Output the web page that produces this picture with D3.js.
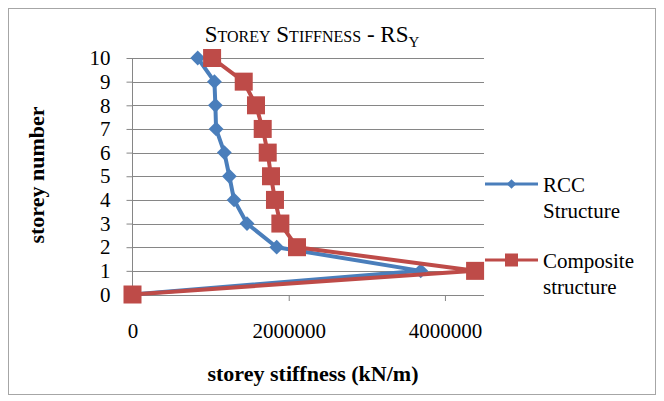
<!DOCTYPE html>
<html><head><meta charset="utf-8">
<script src="https://cdn.jsdelivr.net/npm/d3@7"></script>
<style>body{margin:0;background:#fff}</style>
</head><body><svg id="c" width="664" height="401" font-family="Liberation Serif, Times New Roman, serif"></svg>
<script>
const storeys = [0,1,2,3,4,5,6,7,8,9,10];
const rcc = [0,3690000,1846000,1466000,1300000,1240000,1176000,1070000,1061000,1049000,835000];
const composite = [0,4386000,2106000,1893000,1824000,1773000,1731000,1667000,1581000,1424000,1019000];
const xTicks = [0,2000000,4000000];
const yTicks = [0,1,2,3,4,5,6,7,8,9,10];
const seriesNames = [["RCC","Structure"],["Composite","structure"]];
const FF = "Liberation Serif, Times New Roman, serif";

const svg = d3.select("#c");
svg.append("rect").attr("x",8.5).attr("y",8.5).attr("width",647).attr("height",386)
  .attr("fill","#fff").attr("stroke","#a6a6a6").attr("stroke-width",1);

const x = d3.scaleLinear().domain([0,4500000]).range([132.5,484]);
const y = d3.scaleLinear().domain([0,10]).range([294.5,58]);

svg.append("g").selectAll("line").data(yTicks.filter(d=>d>0)).join("line")
  .attr("x1",132).attr("x2",484).attr("y1",d=>Math.round(y(d))+0.5).attr("y2",d=>Math.round(y(d))+0.5)
  .attr("stroke","#868686").attr("stroke-width",1);

const gx = svg.append("g").attr("transform","translate(0,295)")
  .call(d3.axisBottom(x).tickValues(xTicks).tickFormat(d3.format("d")).tickSize(6));
gx.attr("font-family",FF).attr("font-size",21);
gx.select(".domain").attr("stroke","#868686").attr("d","M132.5,0.5H484");
gx.selectAll(".tick line").attr("stroke","#868686");
gx.selectAll("text").attr("fill","#000").attr("y",43).attr("dy",0);

const gy = svg.append("g").attr("transform","translate(132.5,0)")
  .call(d3.axisLeft(y).tickValues(yTicks).tickSize(6));
gy.attr("font-family",FF).attr("font-size",21);
gy.select(".domain").attr("stroke","#868686").attr("d","M0,58V295");
gy.selectAll(".tick line").attr("stroke","#868686");
gy.selectAll("text").attr("fill","#000").attr("x",-22);

const line = (vals)=>d3.line().x((d,i)=>x(d)).y((d,i)=>y(storeys[i]))(vals);
const blue="#4a7ebb", red="#be4b48";
svg.append("path").attr("d",line(rcc)).attr("fill","none").attr("stroke",blue).attr("stroke-width",4).attr("stroke-linejoin","round");
svg.append("g").selectAll("path").data(rcc).join("path")
  .attr("d",d3.symbol(d3.symbolDiamond2,140)).attr("fill",blue)
  .attr("transform",(d,i)=>`translate(${x(d)},${y(storeys[i])})`);
svg.append("path").attr("d",line(composite)).attr("fill","none").attr("stroke",red).attr("stroke-width",4).attr("stroke-linejoin","round");
svg.append("g").selectAll("rect").data(composite).join("rect")
  .attr("x",d=>x(d)-9).attr("y",(d,i)=>y(storeys[i])-9).attr("width",18).attr("height",18).attr("fill",red);

const t = svg.append("text").attr("x",312).attr("y",42).attr("text-anchor","middle").attr("font-size",23)
  .attr("font-family",FF).style("font-variant","small-caps");
t.append("tspan").text("Storey Stiffness - RS");
t.append("tspan").attr("font-size",15).attr("dy",5).text("Y");

svg.append("text").attr("x",313).attr("y",381).attr("text-anchor","middle").attr("font-size",22).attr("font-family",FF).attr("font-weight","bold").text("storey stiffness (kN/m)");
svg.append("text").attr("transform","translate(44,175) rotate(-90)").attr("text-anchor","middle").attr("font-size",22).attr("font-family",FF).attr("font-weight","bold").text("storey number");

const leg = [{c:blue,y:184,sym:"d"},{c:red,y:260,sym:"s"}];
leg.forEach((l,i)=>{
  svg.append("line").attr("x1",485).attr("x2",538).attr("y1",l.y).attr("y2",l.y).attr("stroke",l.c).attr("stroke-width",3);
  if(l.sym==="d") svg.append("path").attr("d",d3.symbol(d3.symbolDiamond2,60)).attr("fill",l.c).attr("transform",`translate(511.5,${l.y})`);
  else svg.append("rect").attr("x",505).attr("y",l.y-6.5).attr("width",13).attr("height",13).attr("fill",l.c);
  const tx = svg.append("text").attr("x",543).attr("y",l.y+8).attr("font-size",21).attr("font-family",FF);
  tx.append("tspan").attr("x",543).text(seriesNames[i][0]);
  tx.append("tspan").attr("x",543).attr("dy",26).text(seriesNames[i][1]);
});
</script></body></html>
